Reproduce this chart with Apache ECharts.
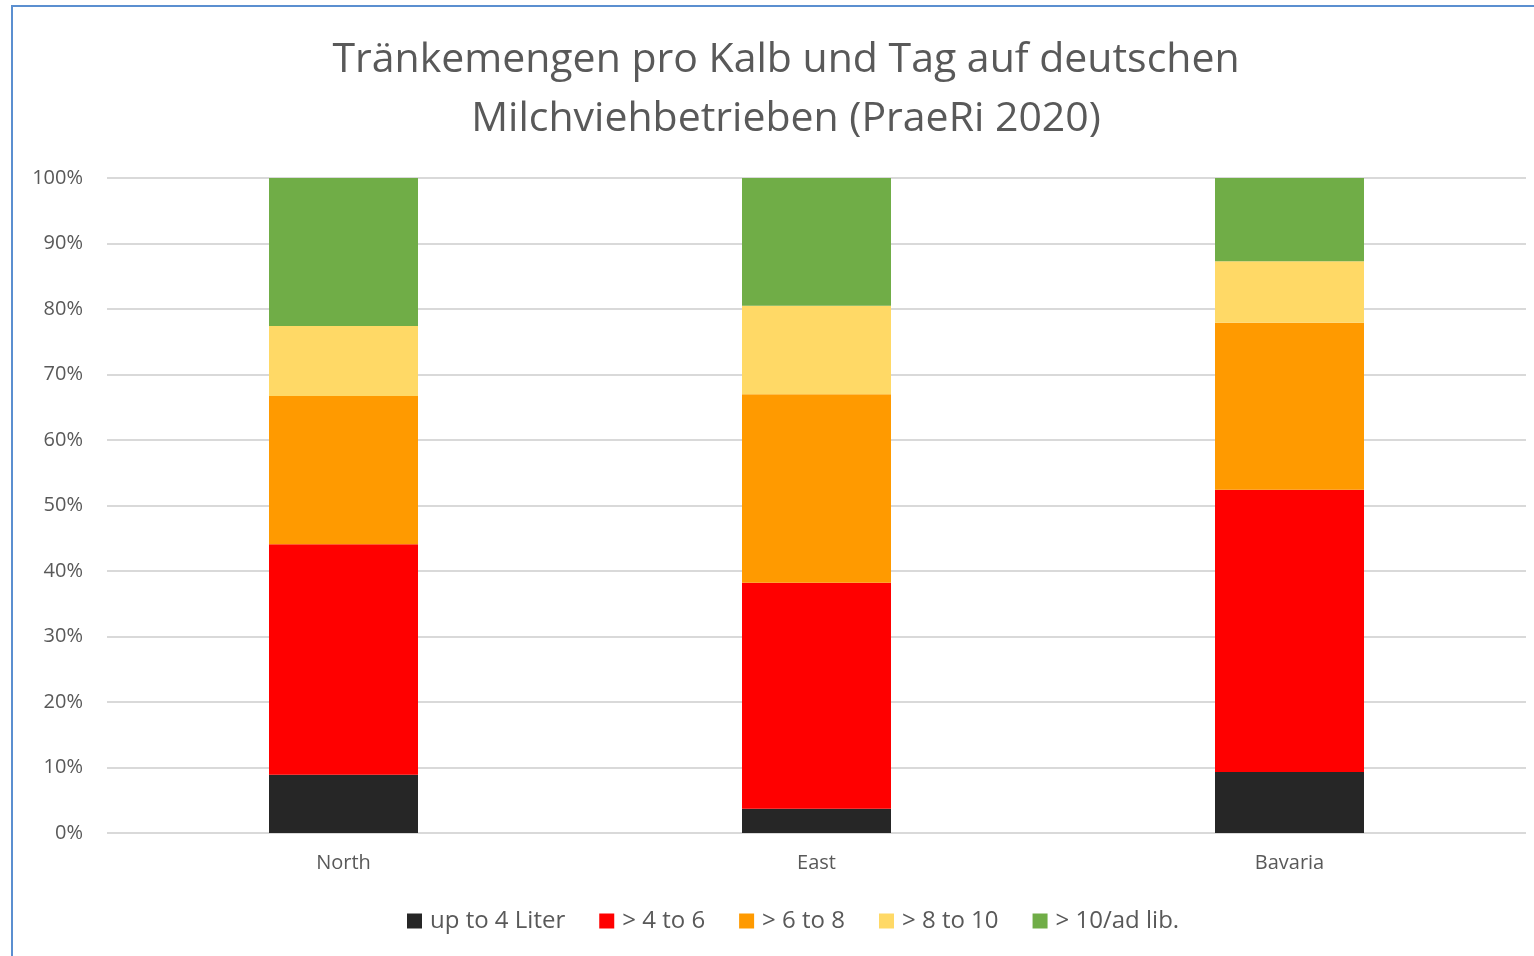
<!DOCTYPE html>
<html lang="de">
<head>
  <meta charset="UTF-8">
  <title>Tränkemengen</title>
  <script src="https://cdn.jsdelivr.net/npm/echarts@6/dist/echarts.min.js"></script>
  <style>
    html, body { margin: 0; padding: 0; width: 100%; height: 100%; overflow: hidden; background: #fff; }
    #frame { position: absolute; left: 11px; top: 5px; width: 1600px; height: 1000px;
             border-left: 2px solid #5b8fd0; border-top: 2px solid #5b8fd0; }
    #container { position: absolute; left: 0; top: 0; width: 1534px; height: 956px; }
  </style>
</head>
<body>
  <div id="frame"></div>
  <div id="container"></div>
  <script>
    var regions = ['North', 'East', 'Bavaria'];
    var seriesNames = ['up to 4 Liter', '> 4 to 6', '> 6 to 8', '> 8 to 10', '> 10/ad lib.'];
    var colors = ['#262626', '#ff0000', '#ff9a00', '#ffd966', '#70ad47'];
    // percent of farms per region
    var upTo4 = [8.9, 3.7, 9.3];
    var to6 = [35.2, 34.5, 43.1];
    var to8 = [22.6, 28.8, 25.5];
    var to10 = [10.7, 13.5, 9.4];
    var adLib = [22.6, 19.5, 12.7];
    var values = [upTo4, to6, to8, to10, adLib];

    var font = '"Open Sans", sans-serif';
    var chart = echarts.init(document.getElementById('container'), null, { renderer: 'canvas' });
    chart.setOption({
      animation: false,
      title: {
        text: 'Tränkemengen pro Kalb und Tag auf deutschen\nMilchviehbetrieben (PraeRi 2020)',
        left: 781, top: 26, textAlign: 'center',
        textStyle: { fontFamily: font, fontSize: 41, fontWeight: 'normal', color: '#595959', lineHeight: 59 }
      },
      legend: {
        bottom: 18, left: 402, itemWidth: 15, itemHeight: 15, itemGap: 34,
        icon: 'rect',
        textStyle: { fontFamily: font, fontSize: 24, color: '#595959', padding: [0, 0, 0, 3] },
        data: seriesNames
      },
      grid: { left: 107, right: 8, top: 178, bottom: 123, containLabel: false },
      xAxis: {
        type: 'category', data: regions,
        axisLine: { show: false }, axisTick: { show: false },
        axisLabel: { fontFamily: font, fontSize: 20, color: '#595959', margin: 20 }
      },
      yAxis: {
        type: 'value', min: 0, max: 100, interval: 10,
        axisLabel: { formatter: '{value}%', fontFamily: font, fontSize: 20, color: '#595959', margin: 24 },
        splitLine: { lineStyle: { color: '#d9d9d9', width: 2 } },
        axisLine: { show: false }, axisTick: { show: false }
      },
      series: seriesNames.map(function (name, i) {
        return {
          name: name, type: 'bar', stack: 'total', barWidth: 149,
          itemStyle: { color: colors[i] },
          data: values[i]
        };
      })
    });
  </script>
</body>
</html>
